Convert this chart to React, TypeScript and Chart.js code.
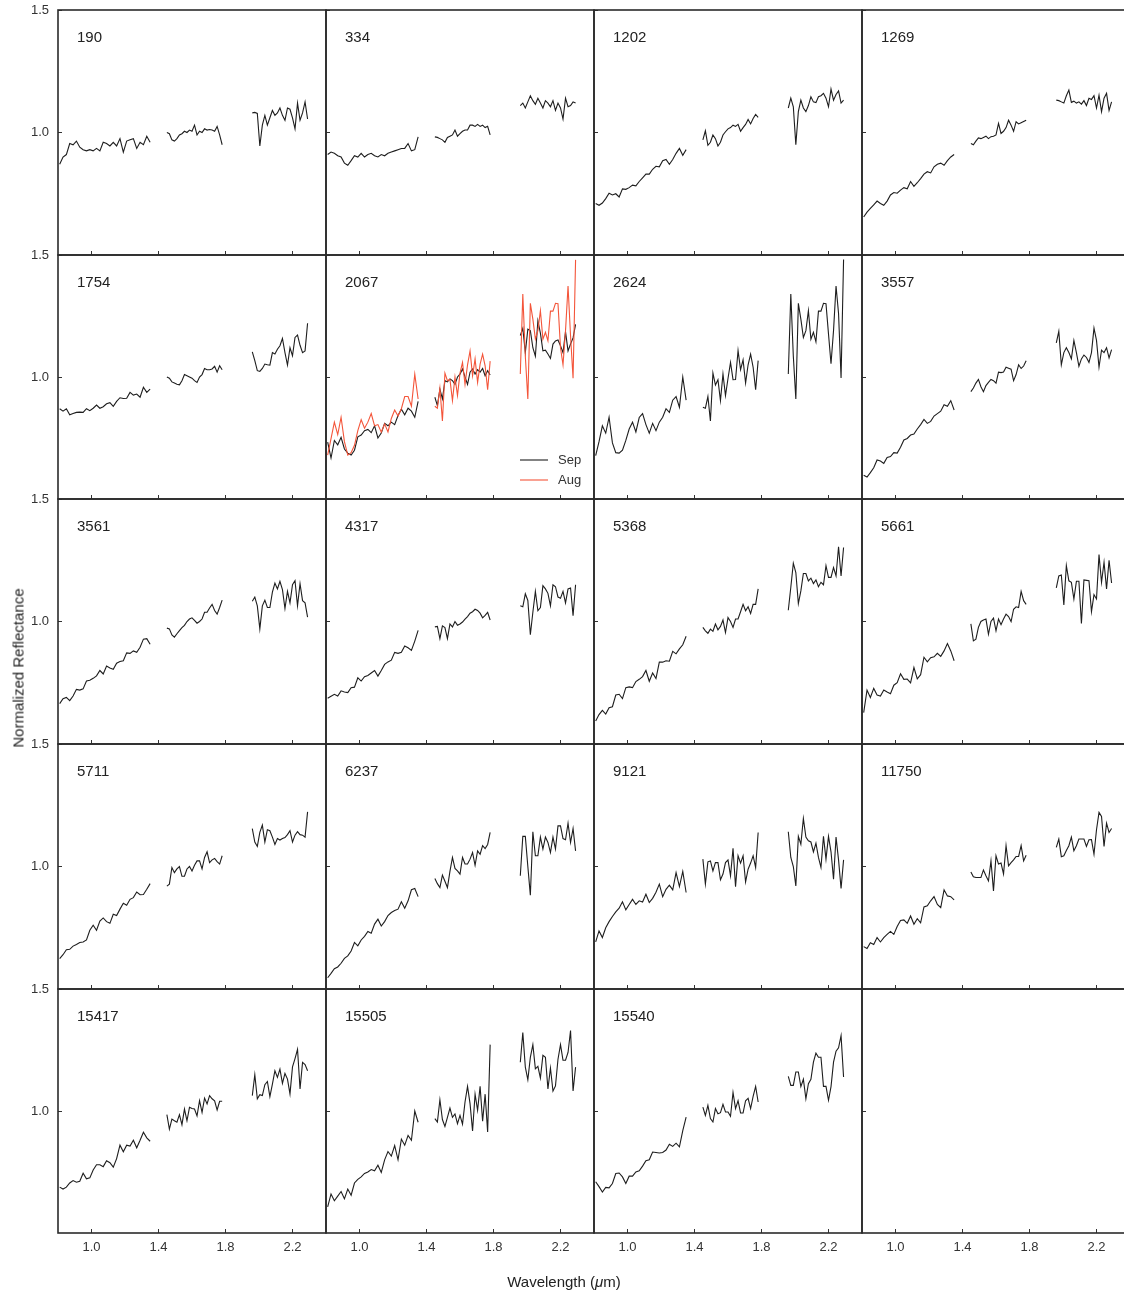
import React, { useEffect, useRef } from "react";
import { Chart, registerables } from "chart.js";

Chart.register(...registerables);

const FONT = '"Liberation Sans", Arial, Helvetica, sans-serif';
Chart.defaults.font.family = FONT;
Chart.defaults.color = "#333";

// Wavelength grids (µm) of the three spectral segments
const W1 = [0.81, 0.83, 0.85, 0.87, 0.89, 0.91, 0.93, 0.95, 0.97, 0.99, 1.01, 1.03, 1.05, 1.07, 1.09, 1.11, 1.13, 1.15, 1.17, 1.19, 1.21, 1.23, 1.25, 1.27, 1.29, 1.31, 1.33, 1.35];
const W2 = [1.45, 1.465, 1.48, 1.495, 1.51, 1.525, 1.54, 1.555, 1.57, 1.585, 1.6, 1.615, 1.63, 1.645, 1.66, 1.675, 1.69, 1.705, 1.72, 1.735, 1.75, 1.765, 1.78];
const W3 = [1.96, 1.975, 1.99, 2.005, 2.02, 2.035, 2.05, 2.065, 2.08, 2.095, 2.11, 2.125, 2.14, 2.155, 2.17, 2.185, 2.2, 2.215, 2.23, 2.245, 2.26, 2.275, 2.29];

const X_TICKS = [1.0, 1.4, 1.8, 2.2];
const Y_TICKS = [1.0, 1.5];

// Normalized reflectance per object: [segment 1, segment 2, segment 3]
const SPEC_190 = [
  [0.87, 0.90, 0.91, 0.955, 0.95, 0.965, 0.94, 0.93, 0.925, 0.93, 0.925, 0.935, 0.925, 0.96, 0.955, 0.945, 0.96, 0.945, 0.975, 0.92, 0.965, 0.97, 0.975, 0.935, 0.96, 0.95, 0.985, 0.96],
  [1.0, 0.995, 0.97, 0.965, 0.975, 0.99, 0.995, 1.005, 1.0, 1.01, 1.005, 1.03, 0.99, 1.005, 1.0, 1.015, 1.01, 1.012, 1.01, 1.005, 1.025, 0.99, 0.95],
  [1.08, 1.082, 1.078, 0.945, 1.03, 1.07, 1.03, 1.06, 1.09, 1.07, 1.08, 1.10, 1.07, 1.05, 1.10, 1.095, 1.06, 1.015, 1.12, 1.05, 1.08, 1.125, 1.055],
];
const SPEC_334 = [
  [0.91, 0.92, 0.915, 0.905, 0.90, 0.875, 0.866, 0.885, 0.905, 0.90, 0.915, 0.90, 0.91, 0.915, 0.905, 0.90, 0.91, 0.905, 0.915, 0.92, 0.925, 0.93, 0.935, 0.935, 0.955, 0.925, 0.93, 0.982],
  [0.982, 0.98, 0.975, 0.97, 0.96, 0.98, 0.985, 0.99, 1.01, 0.985, 0.995, 1.005, 1.01, 1.01, 1.03, 1.03, 1.025, 1.033, 1.025, 1.03, 1.02, 1.025, 0.99],
  [1.11, 1.12, 1.10, 1.125, 1.15, 1.13, 1.115, 1.14, 1.12, 1.10, 1.13, 1.12, 1.105, 1.13, 1.09, 1.12, 1.10, 1.055, 1.14, 1.105, 1.11, 1.125, 1.12],
];
const SPEC_1202 = [
  [0.71, 0.703, 0.712, 0.73, 0.752, 0.745, 0.75, 0.737, 0.77, 0.768, 0.775, 0.785, 0.782, 0.80, 0.815, 0.83, 0.83, 0.85, 0.862, 0.86, 0.885, 0.89, 0.87, 0.89, 0.915, 0.935, 0.907, 0.93],
  [0.97, 1.007, 0.948, 0.96, 0.99, 0.975, 0.945, 0.96, 0.99, 1.003, 1.015, 1.02, 1.03, 1.025, 1.033, 1.005, 1.02, 1.033, 1.053, 1.035, 1.057, 1.074, 1.062],
  [1.10, 1.14, 1.105, 0.95, 1.085, 1.132, 1.10, 1.085, 1.11, 1.146, 1.125, 1.122, 1.146, 1.15, 1.16, 1.14, 1.105, 1.177, 1.132, 1.155, 1.17, 1.12, 1.132],
];
const SPEC_1269 = [
  [0.655, 0.675, 0.69, 0.705, 0.72, 0.71, 0.703, 0.72, 0.745, 0.755, 0.752, 0.765, 0.775, 0.77, 0.80, 0.78, 0.795, 0.812, 0.83, 0.84, 0.835, 0.86, 0.87, 0.875, 0.866, 0.885, 0.90, 0.91],
  [0.955, 0.95, 0.965, 0.978, 0.975, 0.98, 0.985, 0.975, 0.983, 0.985, 0.99, 1.037, 0.996, 1.005, 1.02, 1.05, 1.03, 1.005, 1.044, 1.035, 1.04, 1.045, 1.05],
  [1.132, 1.13, 1.125, 1.12, 1.15, 1.173, 1.123, 1.128, 1.12, 1.125, 1.116, 1.13, 1.11, 1.14, 1.135, 1.15, 1.10, 1.152, 1.085, 1.14, 1.16, 1.09, 1.125],
];
const SPEC_1754 = [
  [0.87, 0.86, 0.87, 0.845, 0.85, 0.855, 0.856, 0.855, 0.87, 0.862, 0.872, 0.885, 0.872, 0.878, 0.89, 0.895, 0.88, 0.9, 0.915, 0.912, 0.913, 0.937, 0.926, 0.93, 0.917, 0.958, 0.937, 0.95],
  [1.0, 0.995, 0.98, 0.975, 0.97, 0.968, 0.985, 1.01, 1.005, 1.0, 0.995, 0.985, 0.978, 1.0, 1.01, 1.035, 1.03, 1.03, 1.033, 1.044, 1.02, 1.046, 1.03],
  [1.103, 1.067, 1.026, 1.023, 1.035, 1.053, 1.05, 1.049, 1.10, 1.094, 1.114, 1.128, 1.158, 1.10, 1.049, 1.12, 1.087, 1.162, 1.172, 1.13, 1.10, 1.107, 1.22],
];
const SPEC_2067_SEP = [
  [0.733, 0.668, 0.74, 0.722, 0.753, 0.705, 0.688, 0.68, 0.70, 0.755, 0.762, 0.78, 0.785, 0.772, 0.80, 0.75, 0.77, 0.81, 0.80, 0.815, 0.805, 0.842, 0.868, 0.845, 0.872, 0.86, 0.835, 0.90],
  [0.917, 0.883, 0.95, 0.91, 0.985, 0.98, 0.992, 0.985, 0.97, 1.0, 1.012, 1.033, 1.0, 0.97, 1.02, 1.033, 1.012, 1.03, 1.02, 1.035, 1.005, 1.026, 1.008],
  [1.17, 1.2, 1.10, 1.196, 1.19, 1.12, 1.085, 1.23, 1.18, 1.107, 1.11, 1.094, 1.076, 1.135, 1.148, 1.152, 1.128, 1.10, 1.185, 1.107, 1.135, 1.16, 1.216],
];
const SPEC_2067_AUG = [
  [0.68, 0.747, 0.815, 0.764, 0.835, 0.735, 0.68, 0.69, 0.72, 0.78, 0.825, 0.79, 0.815, 0.85, 0.80, 0.805, 0.774, 0.808, 0.775, 0.83, 0.865, 0.84, 0.87, 0.92, 0.92, 0.88, 1.012, 0.91],
  [0.88, 0.872, 0.954, 0.82, 1.016, 0.985, 0.99, 0.903, 1.0, 0.924, 1.016, 1.06, 0.97, 1.05, 1.107, 1.005, 1.074, 0.978, 1.053, 1.094, 1.046, 0.948, 1.065],
  [1.012, 1.34, 1.085, 0.91, 1.302, 1.237, 1.155, 1.19, 1.272, 1.155, 1.183, 1.148, 1.27, 1.27, 1.302, 1.30, 1.12, 1.05, 1.19, 1.373, 1.168, 0.995, 1.48],
];
const SPEC_2624 = [
  [0.678, 0.735, 0.80, 0.77, 0.835, 0.73, 0.69, 0.688, 0.70, 0.74, 0.787, 0.815, 0.775, 0.834, 0.85, 0.805, 0.77, 0.81, 0.78, 0.815, 0.835, 0.87, 0.855, 0.905, 0.92, 0.876, 1.0, 0.905],
  [0.876, 0.872, 0.92, 0.82, 1.016, 0.967, 0.989, 0.903, 1.012, 0.924, 0.994, 1.06, 0.989, 0.99, 1.108, 1.03, 1.07, 0.975, 1.05, 1.094, 1.04, 0.948, 1.067],
  [1.012, 1.34, 1.085, 0.91, 1.302, 1.237, 1.162, 1.19, 1.272, 1.155, 1.183, 1.144, 1.27, 1.27, 1.302, 1.30, 1.176, 1.054, 1.19, 1.373, 1.26, 0.996, 1.482],
];
const SPEC_3557 = [
  [0.597, 0.59, 0.608, 0.628, 0.66, 0.656, 0.646, 0.67, 0.674, 0.69, 0.688, 0.712, 0.742, 0.748, 0.762, 0.766, 0.787, 0.805, 0.826, 0.81, 0.818, 0.84, 0.85, 0.86, 0.886, 0.88, 0.903, 0.865],
  [0.94, 0.955, 0.975, 0.99, 0.96, 0.94, 0.965, 0.978, 0.99, 0.985, 0.975, 1.02, 1.018, 1.02, 1.04, 1.036, 1.032, 0.985, 1.01, 1.05, 1.035, 1.045, 1.067],
  [1.14, 1.187, 1.05, 1.10, 1.12, 1.10, 1.074, 1.15, 1.10, 1.044, 1.074, 1.09, 1.08, 1.06, 1.10, 1.2, 1.15, 1.04, 1.11, 1.10, 1.12, 1.078, 1.112],
];
const SPEC_3561 = [
  [0.665, 0.685, 0.69, 0.677, 0.696, 0.723, 0.72, 0.725, 0.757, 0.76, 0.768, 0.778, 0.80, 0.786, 0.818, 0.81, 0.805, 0.83, 0.837, 0.84, 0.872, 0.87, 0.88, 0.874, 0.895, 0.928, 0.93, 0.907],
  [0.973, 0.97, 0.945, 0.936, 0.95, 0.963, 0.975, 0.984, 1.0, 1.01, 1.015, 1.005, 0.993, 1.0, 1.01, 1.038, 1.038, 1.055, 1.07, 1.045, 1.03, 1.057, 1.087],
  [1.083, 1.10, 1.064, 0.97, 1.064, 1.087, 1.057, 1.057, 1.12, 1.157, 1.133, 1.164, 1.13, 1.053, 1.123, 1.076, 1.15, 1.167, 1.064, 1.154, 1.085, 1.076, 1.018],
];
const SPEC_4317 = [
  [0.687, 0.695, 0.703, 0.696, 0.717, 0.712, 0.71, 0.73, 0.732, 0.77, 0.757, 0.775, 0.78, 0.79, 0.80, 0.777, 0.80, 0.825, 0.835, 0.842, 0.874, 0.87, 0.874, 0.9, 0.893, 0.882, 0.92, 0.964],
  [0.978, 0.98, 0.93, 0.982, 0.975, 0.93, 0.99, 0.978, 1.0, 0.985, 0.99, 0.998, 1.01, 1.02, 1.034, 1.04, 1.05, 1.045, 1.034, 1.015, 1.025, 1.037, 1.006],
  [1.064, 1.06, 1.113, 1.086, 0.946, 1.038, 1.123, 1.044, 1.057, 1.146, 1.133, 1.115, 1.064, 1.15, 1.142, 1.10, 1.095, 1.123, 1.076, 1.133, 1.137, 1.024, 1.15],
];
const SPEC_5368 = [
  [0.594, 0.62, 0.637, 0.622, 0.648, 0.652, 0.70, 0.703, 0.685, 0.73, 0.733, 0.73, 0.755, 0.764, 0.775, 0.80, 0.756, 0.79, 0.767, 0.834, 0.834, 0.84, 0.838, 0.878, 0.868, 0.888, 0.905, 0.94],
  [0.976, 0.962, 0.952, 0.969, 0.96, 0.99, 0.966, 0.98, 1.006, 0.955, 1.016, 1.0, 0.976, 1.01, 1.01, 1.04, 1.07, 1.044, 1.06, 1.033, 1.07, 1.07, 1.133],
  [1.046, 1.14, 1.238, 1.2, 1.073, 1.125, 1.196, 1.196, 1.166, 1.177, 1.155, 1.17, 1.142, 1.16, 1.15, 1.228, 1.18, 1.18, 1.22, 1.186, 1.305, 1.186, 1.302],
];
const SPEC_5661 = [
  [0.628, 0.72, 0.69, 0.727, 0.70, 0.696, 0.72, 0.712, 0.705, 0.74, 0.75, 0.787, 0.764, 0.765, 0.75, 0.812, 0.766, 0.783, 0.854, 0.835, 0.852, 0.856, 0.87, 0.858, 0.88, 0.91, 0.88, 0.84],
  [0.99, 0.921, 0.928, 0.976, 1.0, 1.006, 1.01, 0.948, 1.0, 1.014, 0.962, 1.01, 0.987, 1.01, 1.03, 1.02, 1.0, 1.05, 1.06, 1.057, 1.123, 1.085, 1.07],
  [1.137, 1.186, 1.19, 1.068, 1.228, 1.166, 1.16, 1.092, 1.164, 1.164, 0.992, 1.17, 1.168, 1.166, 1.04, 1.11, 1.092, 1.273, 1.16, 1.242, 1.133, 1.25, 1.157],
];
const SPEC_5711 = [
  [0.624, 0.64, 0.66, 0.662, 0.675, 0.682, 0.69, 0.692, 0.70, 0.74, 0.76, 0.74, 0.777, 0.79, 0.775, 0.768, 0.805, 0.80, 0.826, 0.85, 0.842, 0.866, 0.873, 0.896, 0.885, 0.886, 0.907, 0.93],
  [0.92, 0.928, 0.996, 0.975, 0.99, 1.0, 0.96, 0.96, 0.99, 1.0, 0.982, 1.005, 1.023, 1.023, 0.99, 1.037, 1.06, 1.016, 1.027, 1.033, 1.02, 1.01, 1.044],
  [1.155, 1.10, 1.082, 1.139, 1.169, 1.10, 1.15, 1.146, 1.12, 1.09, 1.114, 1.108, 1.114, 1.118, 1.13, 1.146, 1.10, 1.128, 1.142, 1.13, 1.128, 1.12, 1.223],
];
const SPEC_6237 = [
  [0.546, 0.564, 0.583, 0.59, 0.605, 0.625, 0.635, 0.655, 0.69, 0.676, 0.70, 0.715, 0.735, 0.728, 0.765, 0.785, 0.757, 0.775, 0.80, 0.812, 0.82, 0.826, 0.856, 0.83, 0.86, 0.905, 0.91, 0.877],
  [0.951, 0.93, 0.914, 0.965, 0.94, 0.914, 0.98, 1.037, 0.992, 0.982, 0.969, 1.037, 1.01, 1.01, 1.03, 1.057, 1.005, 1.064, 1.05, 1.085, 1.073, 1.09, 1.139],
  [0.962, 1.123, 1.123, 1.0, 0.883, 1.142, 1.044, 1.044, 1.12, 1.071, 1.12, 1.098, 1.057, 1.12, 1.071, 1.166, 1.166, 1.114, 1.109, 1.177, 1.098, 1.155, 1.064],
];
const SPEC_9121 = [
  [0.692, 0.737, 0.71, 0.75, 0.775, 0.796, 0.815, 0.83, 0.856, 0.823, 0.845, 0.866, 0.845, 0.86, 0.855, 0.887, 0.853, 0.87, 0.895, 0.928, 0.877, 0.907, 0.924, 0.905, 0.975, 0.918, 0.98, 0.894],
  [1.03, 0.928, 1.019, 1.023, 0.982, 1.016, 1.016, 0.946, 0.969, 1.016, 1.027, 0.962, 1.074, 0.918, 1.044, 1.014, 1.044, 0.937, 0.989, 1.014, 1.044, 0.996, 1.139],
  [1.142, 1.037, 1.0, 0.921, 1.123, 1.091, 1.196, 1.12, 1.105, 1.10, 1.06, 1.095, 1.037, 0.996, 1.123, 1.03, 1.123, 1.06, 0.948, 1.12, 1.027, 0.91, 1.027],
];
const SPEC_11750 = [
  [0.673, 0.665, 0.689, 0.682, 0.71, 0.692, 0.71, 0.723, 0.735, 0.723, 0.755, 0.78, 0.782, 0.768, 0.798, 0.764, 0.787, 0.77, 0.835, 0.84, 0.86, 0.877, 0.845, 0.832, 0.905, 0.88, 0.877, 0.864],
  [0.978, 0.958, 0.955, 0.955, 0.955, 0.986, 0.962, 0.941, 1.023, 0.9, 1.044, 1.01, 1.014, 0.969, 1.085, 1.003, 1.016, 1.027, 1.041, 1.041, 1.085, 1.023, 1.046],
  [1.078, 1.112, 1.04, 1.044, 1.065, 1.085, 1.12, 1.064, 1.085, 1.112, 1.112, 1.112, 1.082, 1.109, 1.11, 1.05, 1.15, 1.221, 1.204, 1.082, 1.177, 1.139, 1.155],
];
const SPEC_15417 = [
  [0.688, 0.68, 0.688, 0.705, 0.715, 0.708, 0.712, 0.745, 0.722, 0.726, 0.758, 0.78, 0.78, 0.772, 0.796, 0.788, 0.77, 0.805, 0.86, 0.833, 0.86, 0.856, 0.88, 0.849, 0.88, 0.913, 0.89, 0.876],
  [0.985, 0.926, 0.967, 0.96, 0.954, 0.985, 0.944, 1.008, 0.96, 1.015, 1.01, 1.008, 0.98, 1.042, 0.994, 1.053, 1.029, 1.063, 1.05, 1.042, 1.004, 1.04, 1.04],
  [1.063, 1.149, 1.05, 1.067, 1.063, 1.108, 1.121, 1.059, 1.11, 1.165, 1.138, 1.172, 1.113, 1.154, 1.131, 1.07, 1.181, 1.215, 1.253, 1.09, 1.199, 1.19, 1.165],
];
const SPEC_15505 = [
  [0.607, 0.66, 0.632, 0.651, 0.67, 0.64, 0.68, 0.655, 0.705, 0.72, 0.73, 0.744, 0.75, 0.76, 0.755, 0.778, 0.748, 0.8, 0.834, 0.815, 0.858, 0.8, 0.885, 0.86, 0.9, 0.88, 1.0, 0.954],
  [0.969, 0.955, 1.046, 0.965, 0.937, 0.974, 1.012, 0.974, 0.988, 0.948, 0.982, 0.946, 1.037, 1.101, 1.03, 0.918, 1.069, 1.003, 1.101, 0.958, 1.069, 0.914, 1.272],
  [1.2, 1.322, 1.18, 1.128, 1.22, 1.272, 1.173, 1.183, 1.135, 1.228, 1.22, 1.09, 1.176, 1.082, 1.103, 1.212, 1.272, 1.208, 1.208, 1.24, 1.33, 1.082, 1.18],
];
const SPEC_15540 = [
  [0.71, 0.69, 0.668, 0.687, 0.685, 0.703, 0.744, 0.746, 0.73, 0.703, 0.733, 0.733, 0.75, 0.755, 0.774, 0.796, 0.8, 0.832, 0.83, 0.828, 0.83, 0.84, 0.864, 0.855, 0.868, 0.853, 0.92, 0.975],
  [1.016, 0.982, 1.023, 0.969, 0.955, 1.01, 0.989, 0.993, 1.027, 0.996, 0.996, 0.978, 1.076, 1.01, 1.042, 0.992, 0.992, 1.042, 1.052, 1.01, 1.06, 1.101, 1.037],
  [1.142, 1.105, 1.105, 1.16, 1.16, 1.1, 1.13, 1.05, 1.112, 1.13, 1.2, 1.237, 1.22, 1.22, 1.101, 1.101, 1.044, 1.1, 1.2, 1.245, 1.259, 1.309, 1.139],
];

type PanelDef = { name: string; sep: number[][] | null; aug?: number[][] };

const PANELS: PanelDef[] = [
  { name: "190", sep: SPEC_190 },
  { name: "334", sep: SPEC_334 },
  { name: "1202", sep: SPEC_1202 },
  { name: "1269", sep: SPEC_1269 },
  { name: "1754", sep: SPEC_1754 },
  { name: "2067", sep: SPEC_2067_SEP, aug: SPEC_2067_AUG },
  { name: "2624", sep: SPEC_2624 },
  { name: "3557", sep: SPEC_3557 },
  { name: "3561", sep: SPEC_3561 },
  { name: "4317", sep: SPEC_4317 },
  { name: "5368", sep: SPEC_5368 },
  { name: "5661", sep: SPEC_5661 },
  { name: "5711", sep: SPEC_5711 },
  { name: "6237", sep: SPEC_6237 },
  { name: "9121", sep: SPEC_9121 },
  { name: "11750", sep: SPEC_11750 },
  { name: "15417", sep: SPEC_15417 },
  { name: "15505", sep: SPEC_15505 },
  { name: "15540", sep: SPEC_15540 },
  { name: "", sep: null },
];

// layout (pixels)
const COL_LEFTS = [58, 326, 594, 862];
const PANEL_W = 268;
const ROW_TOPS = [10, 255, 499, 744, 989];
const ROW_HEIGHTS = [245, 244, 245, 245, 244];

function toPoints(spec: number[][]) {
  const grids = [W1, W2, W3];
  const pts: { x: number; y: number | null }[] = [];
  grids.forEach((grid, g) => {
    if (g > 0) {
      const prev = grids[g - 1];
      pts.push({ x: (prev[prev.length - 1] + grid[0]) / 2, y: null });
    }
    grid.forEach((x, i) => pts.push({ x, y: spec[g][i] }));
  });
  return pts;
}

const panelDecor = {
  id: "panelDecor",
  afterDraw(chart: any, _args: any, opts: any) {
    const { ctx, chartArea: a } = chart;
    ctx.save();
    ctx.strokeStyle = "#2b2b2b";
    ctx.lineWidth = 1.6;
    ctx.strokeRect(a.left, a.top, a.right - a.left, a.bottom - a.top);
    if (opts.label) {
      ctx.fillStyle = "#222";
      ctx.font = `15px ${FONT}`;
      ctx.textAlign = "left";
      ctx.textBaseline = "middle";
      ctx.fillText(opts.label, a.left + 19, a.top + 28);
    }
    if (opts.legend) {
      ctx.font = `13px ${FONT}`;
      ctx.textAlign = "left";
      ctx.textBaseline = "middle";
      chart.data.datasets.forEach((ds: any, i: number) => {
        const y = a.bottom - 39 + i * 20;
        ctx.strokeStyle = ds.borderColor;
        ctx.lineWidth = 1.1;
        ctx.beginPath();
        ctx.moveTo(a.right - 74, y);
        ctx.lineTo(a.right - 46, y);
        ctx.stroke();
        ctx.fillStyle = "#333";
        ctx.fillText(ds.label, a.right - 36, y);
      });
    }
    ctx.restore();
  },
};

function buildConfig(p: PanelDef, isLeft: boolean, isBottom: boolean, axisW: number, axisH: number) {
  const datasets: any[] = [];
  const common = {
    pointRadius: 0,
    pointHoverRadius: 0,
    borderWidth: 1.1,
    tension: 0,
    fill: false,
    spanGaps: false,
  };
  if (p.sep) datasets.push({ ...common, label: "Sep", data: toPoints(p.sep), borderColor: "#1e1e1e", order: 1 });
  if (p.aug) datasets.push({ ...common, label: "Aug", data: toPoints(p.aug), borderColor: "#f4553a", order: 0 });
  return {
    type: "line",
    data: { datasets },
    options: {
      animation: false,
      responsive: false,
      maintainAspectRatio: false,
      events: [],
      layout: { padding: { top: 10, right: 4, left: 0, bottom: 0 } },
      plugins: {
        legend: { display: false },
        tooltip: { enabled: false },
        panelDecor: { label: p.name, legend: !!p.aug },
      },
      scales: {
        x: {
          type: "linear",
          position: "bottom",
          min: 0.8,
          max: 2.4,
          afterBuildTicks: (s: any) => {
            s.ticks = X_TICKS.map((v) => ({ value: v }));
          },
          afterFit: (s: any) => {
            s.height = axisH;
            s.paddingLeft = 0;
            s.paddingRight = 0;
          },
          border: { display: false },
          grid: { display: true, drawOnChartArea: false, drawTicks: true, tickLength: -4, color: "#333", lineWidth: 1 },
          ticks: {
            display: isBottom,
            autoSkip: false,
            maxRotation: 0,
            padding: 11,
            color: "#333",
            font: { size: 13, family: FONT },
            callback: (v: any) => Number(v).toFixed(1),
          },
        },
        y: {
          type: "linear",
          position: "left",
          min: 0.5,
          max: 1.5,
          afterBuildTicks: (s: any) => {
            s.ticks = Y_TICKS.map((v) => ({ value: v }));
          },
          afterFit: (s: any) => {
            s.width = axisW;
            s.paddingTop = 0;
            s.paddingBottom = 0;
          },
          border: { display: false },
          grid: { display: true, drawOnChartArea: false, drawTicks: true, tickLength: -4, color: "#333", lineWidth: 1 },
          ticks: {
            display: isLeft,
            autoSkip: false,
            padding: 13,
            color: "#333",
            font: { size: 13, family: FONT },
            callback: (v: any) => Number(v).toFixed(1),
          },
        },
      },
    },
    plugins: [panelDecor],
  };
}

function Panel({ def, row, col }: { def: PanelDef; row: number; col: number }) {
  const ref = useRef<HTMLCanvasElement | null>(null);
  const isLeft = col === 0;
  const isBottom = row === ROW_TOPS.length - 1;
  const panelLeft = COL_LEFTS[col];
  const canvasLeft = isLeft ? 0 : panelLeft - 4;
  const axisW = panelLeft - canvasLeft;
  const axisH = isBottom ? 60 : 4;
  const canvasTop = ROW_TOPS[row] - 10;
  const width = axisW + PANEL_W + 4;
  const height = 10 + ROW_HEIGHTS[row] + axisH;

  useEffect(() => {
    if (!ref.current) return;
    const chart = new Chart(ref.current, buildConfig(def, isLeft, isBottom, axisW, axisH) as any);
    return () => chart.destroy();
  }, []);

  return (
    <canvas
      ref={ref}
      width={width}
      height={height}
      style={{ position: "absolute", left: canvasLeft, top: canvasTop, width, height }}
    />
  );
}

export default function App() {
  return (
    <div
      style={{
        position: "absolute",
        left: 0,
        top: 0,
        width: 1124,
        height: 1293,
        overflow: "hidden",
        background: "#fff",
        fontFamily: FONT,
      }}
    >
      {PANELS.map((p, i) => (
        <Panel key={i} def={p} row={Math.floor(i / 4)} col={i % 4} />
      ))}
      <div
        style={{
          position: "absolute",
          left: 18,
          top: 668,
          transform: "translate(-50%, -50%) rotate(-90deg)",
          whiteSpace: "nowrap",
          fontSize: 15,
          color: "#222",
        }}
      >
        Normalized Reflectance
      </div>
      <div
        style={{
          position: "absolute",
          left: 564,
          top: 1281,
          transform: "translate(-50%, -50%)",
          whiteSpace: "nowrap",
          fontSize: 15,
          color: "#222",
        }}
      >
        Wavelength (<span style={{ fontStyle: "italic" }}>μ</span>m)
      </div>
    </div>
  );
}
